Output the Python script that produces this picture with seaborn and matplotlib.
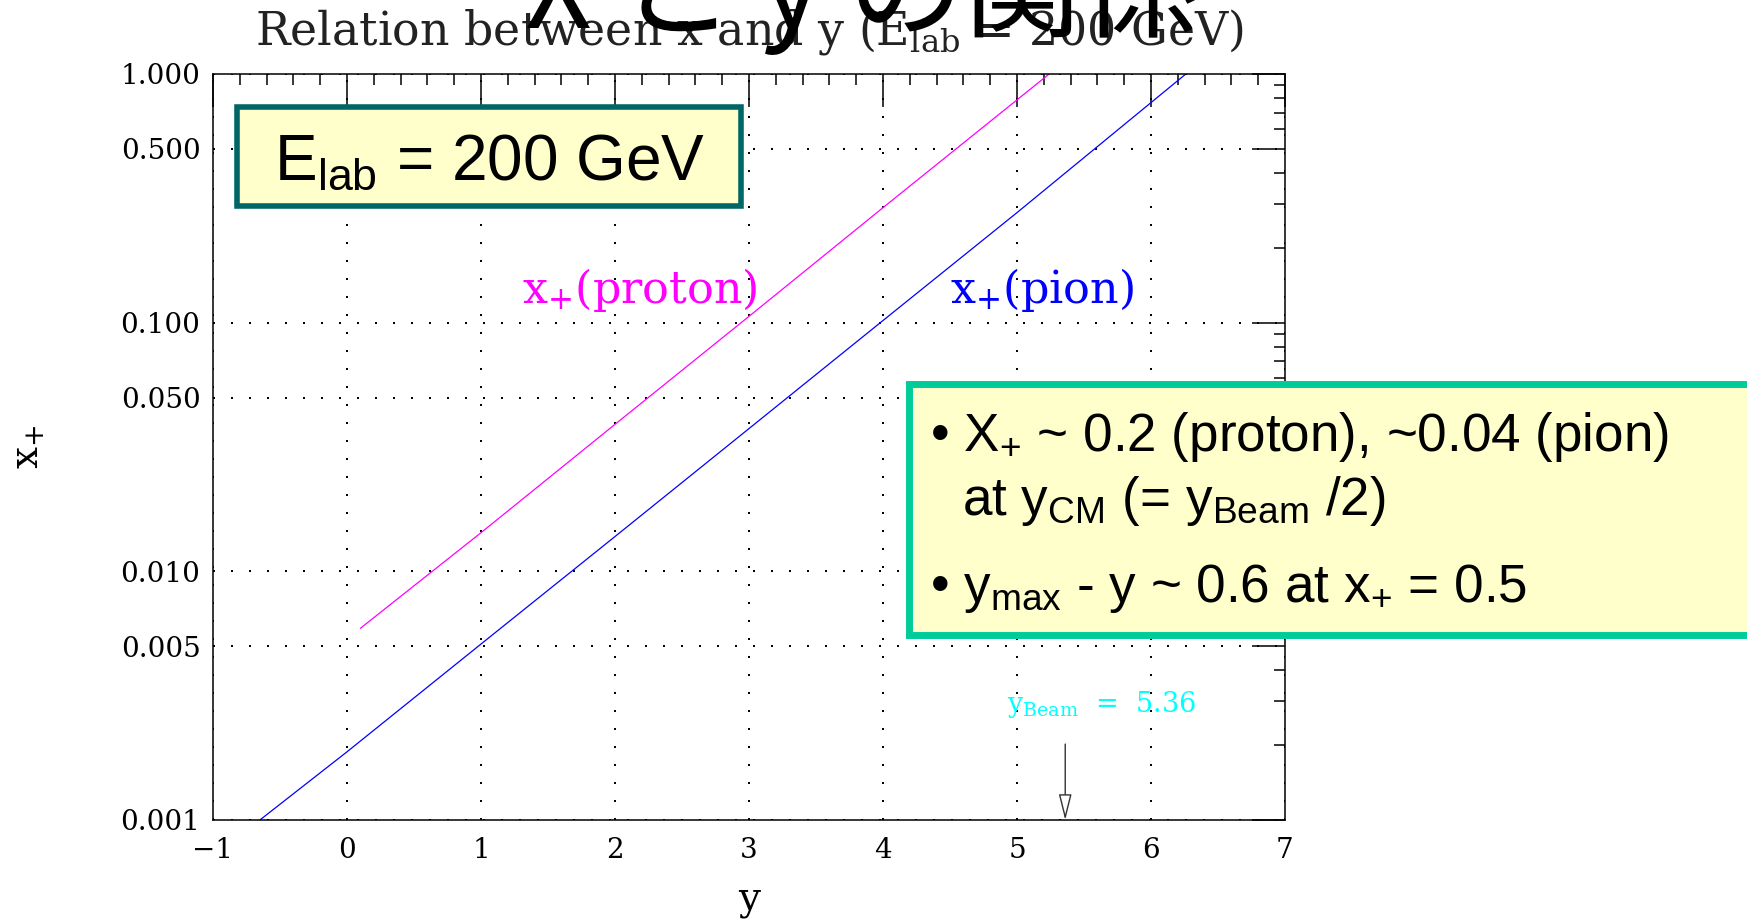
import matplotlib
matplotlib.use("Agg")
import matplotlib.pyplot as plt
from matplotlib.patches import Rectangle
from matplotlib.ticker import FixedLocator, FixedFormatter, NullFormatter
import numpy as np
import pandas as pd
import seaborn as sns

# ---------------- data ----------------
rap_proton = [0.1, 1.0, 2.0, 3.0, 4.0, 5.24]
xplus_proton = [0.0059, 0.0143, 0.039, 0.106, 0.29, 1.0]
rap_pion = [-0.65, 0.0, 1.0, 2.0, 3.0, 4.0, 5.0, 6.26]
xplus_pion = [0.001, 0.00188, 0.0051, 0.0138, 0.0375, 0.102, 0.277, 1.0]
series_names = ["proton", "pion"]
series_colors = ["#ff00ff", "#0000ff"]

x_ticks = [-1, 0, 1, 2, 3, 4, 5, 6, 7]
x_ticklabels = ["\u22121", "0", "1", "2", "3", "4", "5", "6", "7"]
y_ticks = [0.001, 0.005, 0.01, 0.05, 0.1, 0.5, 1.0]
y_ticklabels = ["0.001", "0.005", "0.010", "0.050", "0.100", "0.500", "1.000"]
y_beam = 5.36

big_title = "X と y の関係"
plot_title = "Relation between x and y (E$_{\\rm lab}$ = 200 GeV)"
box1_text = "E$_{\\mathrm{lab}}$ = 200 GeV"
box2_lines = [
    "\u2022 X$_{+}$ ~ 0.2 (proton), ~0.04 (pion)",
    "at y$_{\\mathrm{CM}}$ (= y$_{\\mathrm{Beam}}$ /2)",
    "\u2022 y$_{\\mathrm{max}}$ - y ~ 0.6 at x$_{+}$ = 0.5",
]

# ---------------- style ----------------
sns.set_theme(style="white")
plt.rcParams["font.family"] = ["DejaVu Serif"]
plt.rcParams["mathtext.fontset"] = "custom"
plt.rcParams["mathtext.rm"] = "Liberation Sans"
plt.rcParams["mathtext.it"] = "Liberation Sans:italic"
plt.rcParams["mathtext.bf"] = "Liberation Sans:bold"
plt.rcParams["axes.unicode_minus"] = True

fig = plt.figure(figsize=(17.47, 9.19), dpi=100)
fig.patch.set_facecolor("white")
ax = fig.add_axes([0.12192, 0.10773, 0.61362, 0.81175])

df = pd.DataFrame({
    "y": rap_proton + rap_pion,
    "xplus": xplus_proton + xplus_pion,
    "particle": [series_names[0]] * len(rap_proton) + [series_names[1]] * len(rap_pion),
})
sns.lineplot(data=df, x="y", y="xplus", hue="particle",
             palette=dict(zip(series_names, series_colors)),
             linewidth=0.9, legend=False, ax=ax, sort=False, estimator=None)

ax.set_yscale("log")
ax.set_xlim(-1, 7)
ax.set_ylim(0.001, 1.0)

ax.xaxis.set_major_locator(FixedLocator(x_ticks))
ax.xaxis.set_major_formatter(FixedFormatter(x_ticklabels))
ax.xaxis.set_minor_locator(FixedLocator([v for v in np.round(np.arange(-1, 7.001, 0.2), 2)
                                         if abs(v - round(v)) > 1e-6]))
ax.yaxis.set_major_locator(FixedLocator(y_ticks))
ax.yaxis.set_major_formatter(FixedFormatter(y_ticklabels))
ax.yaxis.set_minor_locator(FixedLocator([k * 10.0 ** d for d in (-3, -2, -1)
                                         for k in (2, 3, 4, 6, 7, 8, 9)]))
ax.yaxis.set_minor_formatter(NullFormatter())

ax.tick_params(which="major", direction="in", length=24, width=1.1, color="black",
               top=True, right=True, labelsize=20, labelcolor="black")
ax.tick_params(which="minor", direction="in", length=8, width=1.1, color="black",
               top=True, right=True)
ax.tick_params(axis="x", which="major", pad=12)
ax.tick_params(axis="y", which="major", pad=9)

for s in ax.spines.values():
    s.set_color("black")
    s.set_linewidth(1.1)

ax.grid(True, which="major", color="black", linestyle=(0, (1, 8)), linewidth=1.44)

ax.set_xlabel("y", fontsize=28, color="black", va="center")
ax.xaxis.set_label_coords(0.5, -0.107)
ax.set_ylabel("x$_{+}$", fontsize=28, color="black", va="center", math_fontfamily="dejavuserif")
ax.yaxis.set_label_coords(-0.1726, 0.5)

ax.set_title(plot_title, fontsize=33, pad=21, color="#222222", math_fontfamily="dejavuserif")

# curve labels
ax.text(1.306, 0.12, "x$_{+}$(proton)", color=series_colors[0], fontsize=32,
        ha="left", va="baseline", math_fontfamily="dejavuserif")
ax.text(4.5, 0.12, "x$_{+}$(pion)", color=series_colors[1], fontsize=32,
        ha="left", va="baseline", math_fontfamily="dejavuserif")

# beam rapidity marker
ax.text(4.925, 0.00272, "y$_{\\rm Beam}$  =  5.36", color="#00ffff", fontsize=19.5,
        ha="left", va="baseline", math_fontfamily="dejavuserif")
ax.annotate("", xy=(y_beam, 0.001), xytext=(y_beam, 0.00202),
            arrowprops=dict(arrowstyle="-|>,head_length=1.6,head_width=0.4",
                            fc="white", ec="#333333", lw=1.0, shrinkA=0, shrinkB=0,
                            mutation_scale=10))

# big overlaid Japanese title
fig.text(0.4928, 0.9695, big_title, fontsize=84, family=["Noto Sans CJK JP", "DejaVu Sans"],
         ha="center", va="baseline", color="black", zorder=10)

# box 1
r1 = Rectangle((0.1354, 0.7758), 0.2885, 0.1077, transform=fig.transFigure,
               facecolor="#ffffcc", edgecolor="#006666", linewidth=4, zorder=5)
fig.add_artist(r1)
fig.text(0.2802, 0.804, box1_text, fontsize=46, family=["Liberation Sans"],
         ha="center", va="baseline", color="black", zorder=6, math_fontfamily="custom")

# box 2 (runs off the right edge)
r2 = Rectangle((0.5203, 0.309), 0.6, 0.2731, transform=fig.transFigure,
               facecolor="#ffffcc", edgecolor="#00cc99", linewidth=5, zorder=5)
fig.add_artist(r2)
fig.text(0.5325, 0.509, box2_lines[0], fontsize=38.2, family=["Liberation Sans"],
         ha="left", va="baseline", color="black", zorder=6, math_fontfamily="custom")
fig.text(0.5506, 0.4396, box2_lines[1], fontsize=38.2, family=["Liberation Sans"],
         ha="left", va="baseline", color="black", zorder=6, math_fontfamily="custom")
fig.text(0.5325, 0.345, box2_lines[2], fontsize=38.2, family=["Liberation Sans"],
         ha="left", va="baseline", color="black", zorder=6, math_fontfamily="custom")

fig.savefig("out.png", dpi=100, facecolor="white")
